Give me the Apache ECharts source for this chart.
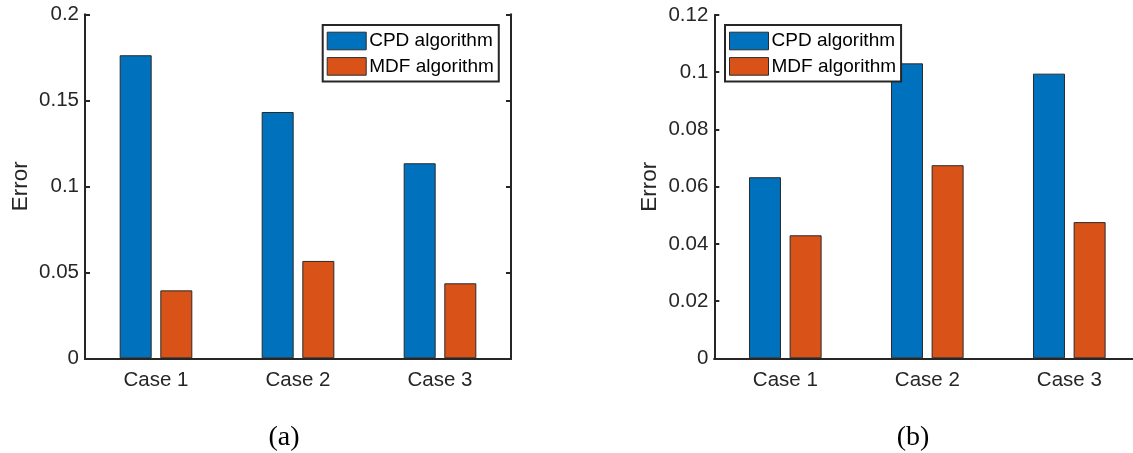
<!DOCTYPE html>
<html>
<head>
<meta charset="utf-8">
<script src="https://cdn.jsdelivr.net/npm/echarts@6/dist/echarts.min.js"></script>
<style>
  html, body { margin: 0; padding: 0; background: #fff; }
  #chart { width: 1133px; height: 453px; }
</style>
</head>
<body>
<div id="chart"></div>
<script>
// Categories and series names shared by both panels
const categories = ['Case 1', 'Case 2', 'Case 3'];
const seriesNames = ['CPD algorithm', 'MDF algorithm'];

// Panel (a) errors
const cpdErrorA = [0.1762, 0.1432, 0.1134];
const mdfErrorA = [0.0395, 0.0566, 0.0436];

// Panel (b) errors
const cpdErrorB = [0.0633, 0.1031, 0.0995];
const mdfErrorB = [0.0430, 0.0675, 0.0476];

// Y-axis ranges: [min, max, interval]
const yRangeA = [0, 0.2, 0.05];
const yRangeB = [0, 0.12, 0.02];

// Panel captions
const captions = ['(a)', '(b)'];

const AXIS = '#262626';
const BLUE = '#0072BD';
const ORANGE = '#D95319';
const SANS = '"Liberation Sans", Arial, Helvetica, sans-serif';

// Second panel runs past the right edge of the canvas, so bounds are not clamped
const grids = [
  { left: 85, top: 14.3, width: 426, height: 344, outerBoundsMode: 'none', containLabel: false },
  { left: 714.3, top: 15, width: 426, height: 343.3, outerBoundsMode: 'none', containLabel: false }
];

function xAxes(gridIndex) {
  return [
    {
      type: 'category', gridIndex, position: 'bottom', data: categories,
      axisLine: { lineStyle: { color: AXIS, width: 2 } },
      axisTick: { inside: true, alignWithLabel: true, length: 5, lineStyle: { color: AXIS, width: 2 } },
      axisLabel: { color: AXIS, fontSize: 20.5, fontFamily: SANS, margin: 12 },
      splitLine: { show: false }
    },
    {
      type: 'category', gridIndex, position: 'top', data: categories,
      axisLine: { lineStyle: { color: AXIS, width: 2 } },
      axisTick: { inside: true, alignWithLabel: true, length: 5, lineStyle: { color: AXIS, width: 2 } },
      axisLabel: { show: false },
      splitLine: { show: false }
    }
  ];
}

function yAxes(gridIndex, range) {
  const common = {
    type: 'value', gridIndex, min: range[0], max: range[1], interval: range[2],
    axisLine: { show: true, lineStyle: { color: AXIS, width: 2 } },
    axisTick: { show: true, inside: true, length: 5, lineStyle: { color: AXIS, width: 2 } },
    splitLine: { show: false }
  };
  return [
    Object.assign({}, common, {
      position: 'left',
      name: 'Error', nameLocation: 'middle', nameGap: 53, nameRotate: 90,
      nameTextStyle: { color: AXIS, fontSize: 22.5, fontFamily: SANS },
      axisLabel: { color: AXIS, fontSize: 20.5, fontFamily: SANS, margin: 6 }
    }),
    Object.assign({}, common, {
      position: 'right',
      axisLabel: { show: false }
    })
  ];
}

function barSeries(name, data, axisBase, color) {
  return {
    type: 'bar', name, data,
    xAxisIndex: axisBase, yAxisIndex: axisBase,
    barWidth: 32, barGap: '27%',
    itemStyle: { color, borderColor: '#2a2a2a', borderWidth: 1 },
    emphasis: { disabled: true }
  };
}

function legend(left) {
  return {
    orient: 'vertical', left, top: 25,
    data: seriesNames,
    icon: 'rect', itemWidth: 39, itemHeight: 17.6, itemGap: 6.4,
    padding: [6.5, 5, 5.5, 4],
    backgroundColor: '#fff', borderColor: AXIS, borderWidth: 2, borderRadius: 0,
    itemStyle: { borderColor: '#2a2a2a', borderWidth: 1 },
    textStyle: { color: '#000', fontSize: 19, fontFamily: SANS, lineHeight: 18, padding: [0, 0, 0, -2] },
    selectedMode: false
  };
}

const option = {
  animation: false,
  backgroundColor: '#fff',
  grid: grids,
  xAxis: [...xAxes(0), ...xAxes(1)],
  yAxis: [...yAxes(0, yRangeA), ...yAxes(1, yRangeB)],
  legend: [legend(322.7), legend(725)],
  series: [
    barSeries(seriesNames[0], cpdErrorA, 0, BLUE),
    barSeries(seriesNames[1], mdfErrorA, 0, ORANGE),
    barSeries(seriesNames[0], cpdErrorB, 2, BLUE),
    barSeries(seriesNames[1], mdfErrorB, 2, ORANGE)
  ],
  graphic: [
    { type: 'text', x: 284, y: 438, style: { text: captions[0], font: '28px "Liberation Serif", "DejaVu Serif", serif', fill: '#000', textAlign: 'center', textVerticalAlign: 'middle' } },
    { type: 'text', x: 913, y: 438, style: { text: captions[1], font: '28px "Liberation Serif", "DejaVu Serif", serif', fill: '#000', textAlign: 'center', textVerticalAlign: 'middle' } }
  ]
};

const chart = echarts.init(document.getElementById('chart'), null, { renderer: 'canvas' });
chart.setOption(option);
</script>
</body>
</html>
